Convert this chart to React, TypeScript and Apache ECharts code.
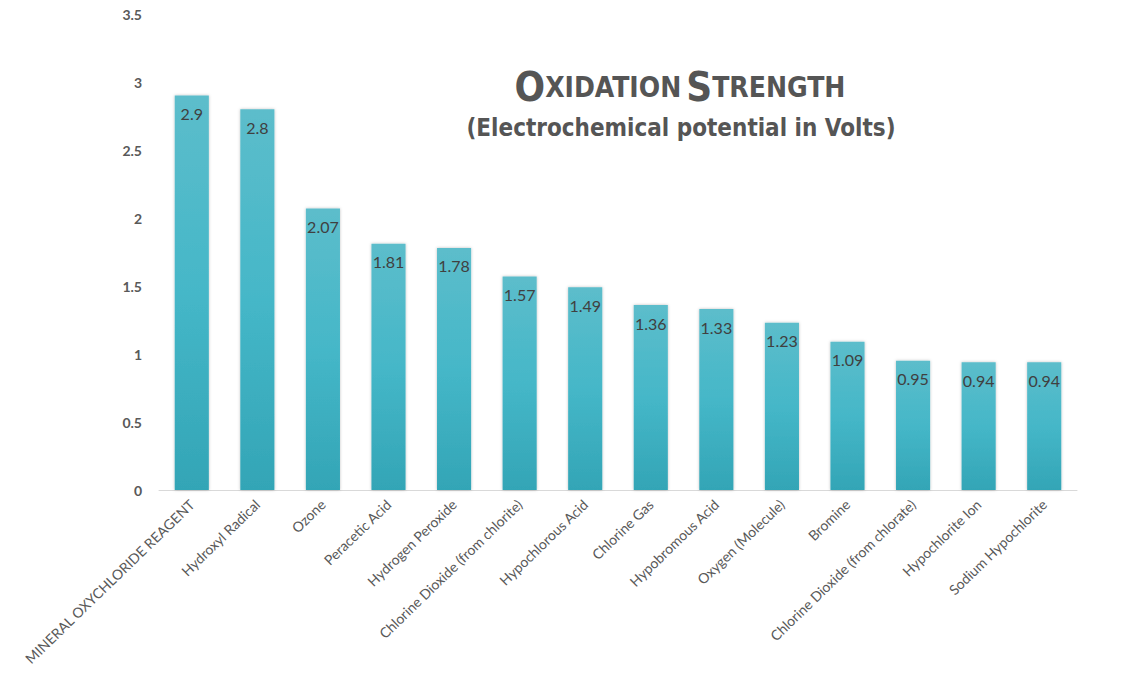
import React, { useEffect, useRef } from "react";
import * as echarts from "echarts";

const categories: string[] = [
  "MINERAL OXYCHLORIDE REAGENT",
  "Hydroxyl Radical",
  "Ozone",
  "Peracetic Acid",
  "Hydrogen Peroxide",
  "Chlorine Dioxide (from chlorite)",
  "Hypochlorous Acid",
  "Chlorine Gas",
  "Hypobromous Acid",
  "Oxygen (Molecule)",
  "Bromine",
  "Chlorine Dioxide (from chlorate)",
  "Hypochlorite Ion",
  "Sodium Hypochlorite",
];

const potentials: number[] = [2.9, 2.8, 2.07, 1.81, 1.78, 1.57, 1.49, 1.36, 1.33, 1.23, 1.09, 0.95, 0.94, 0.94];

const titleMain = "{b|O}{s|XIDATION} {b|S}{s|TRENGTH}";
const titleSub = "(Electrochemical potential in Volts)";

export default function App() {
  const ref = useRef<HTMLDivElement>(null);
  useEffect(() => {
    document.body.style.margin = "0";
    if (!ref.current) return;
    const chart = echarts.init(ref.current, null, { renderer: "svg" });
    const condensed = '"Liberation Sans Narrow", "DejaVu Sans Condensed", "Liberation Sans", sans-serif';
    chart.setOption({
      animation: false,
      backgroundColor: "#ffffff",
      title: [
        {
          text: titleMain,
          left: 675,
          top: 62,
          textAlign: "center",
          textStyle: {
            rich: {
              b: { fontSize: 40, fontWeight: "bold", color: "#555555", fontFamily: condensed },
              s: { fontSize: 28, fontWeight: "bold", color: "#555555", fontFamily: condensed },
            },
          },
        },
        {
          text: titleSub,
          left: 676,
          top: 111,
          textAlign: "center",
          textStyle: { fontSize: 24, fontWeight: "bold", color: "#555555", fontFamily: condensed },
        },
      ],
      grid: { left: 159, top: 14, width: 918, height: 476, containLabel: false },
      xAxis: {
        type: "category",
        data: categories,
        axisLine: { lineStyle: { color: "#d9d9d9", width: 1 } },
        axisTick: { show: false },
        axisLabel: {
          interval: 0,
          rotate: 44,
          margin: 12,
          fontSize: 14,
          color: "#595959",
          fontFamily: "Lato, 'Open Sans', sans-serif",
        },
      },
      yAxis: {
        type: "value",
        min: 0,
        max: 3.5,
        interval: 0.5,
        splitLine: { show: false },
        axisLine: { show: false },
        axisTick: { show: false },
        axisLabel: {
          margin: 17,
          fontSize: 14,
          fontWeight: "bold",
          color: "#595959",
          fontFamily: "Lato, 'Open Sans', sans-serif",
        },
      },
      series: [
        {
          type: "bar",
          data: potentials,
          barWidth: "52%",
          itemStyle: {
            color: new echarts.graphic.LinearGradient(0, 0, 0, 1, [
              { offset: 0, color: "#5cbdcb" },
              { offset: 0.5, color: "#45b7c8" },
              { offset: 1, color: "#33a5b6" },
            ]),
            shadowBlur: 3,
            shadowColor: "rgba(0,0,0,0.25)",
          },
          label: {
            show: true,
            position: "insideTop",
            distance: 10,
            fontSize: 16,
            color: "#404040",
            fontFamily: "Lato, 'Open Sans', sans-serif",
          },
        },
      ],
    });
    return () => chart.dispose();
  }, []);
  return <div ref={ref} style={{ width: 1133, height: 674 }} />;
}
